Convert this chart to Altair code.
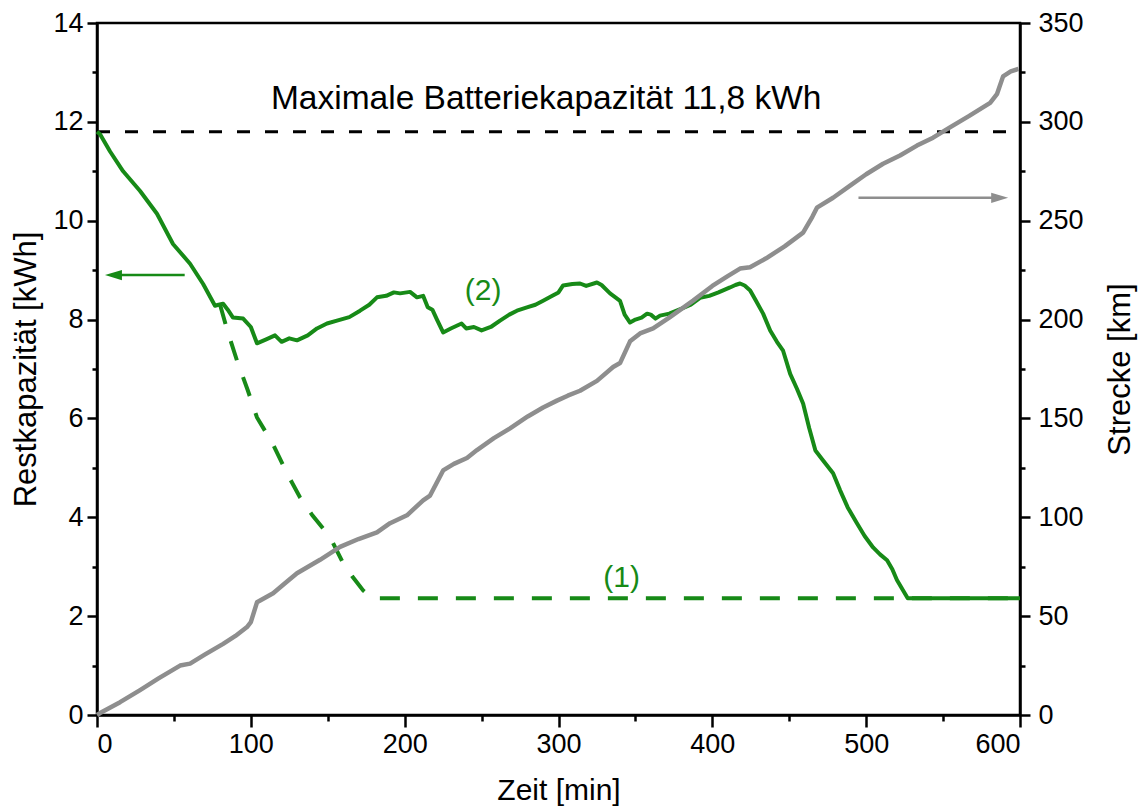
import altair as alt
import pandas as pd

# ---- data ----
# (2) solid green: remaining capacity [kWh] over time [min]
t_solid = [0, 2, 8.5, 17, 28, 39, 49.4, 60.5, 69, 76.7, 79, 82, 85, 88.4, 95, 100, 104, 110, 115.7, 120, 125,
           130, 137, 143, 149.5, 156, 164, 171, 177, 182, 188, 193, 197, 203.5, 208, 212, 215, 218, 221, 225,
           230, 237, 240, 245, 250, 256, 262, 268, 273, 280, 285, 290, 296, 300, 303, 309, 314, 318, 325,
           328, 333.5, 337, 340, 343, 346.5, 350, 354, 357.6, 360, 363, 366, 372, 380, 386, 392, 398, 404,
           411.5, 415, 418, 421, 424.6, 428, 433, 437.6, 442, 446, 450.6, 455, 459, 463, 467, 472, 478.5,
           483, 488, 494, 499, 504.5, 509, 513.6, 517, 520, 527, 600]
v_solid = [11.8, 11.75, 11.4, 11.0, 10.6, 10.14, 9.53, 9.13, 8.72, 8.28, 8.3, 8.32, 8.2, 8.04, 8.02, 7.85,
           7.52, 7.6, 7.68, 7.55, 7.62, 7.58, 7.68, 7.82, 7.92, 7.98, 8.05, 8.18, 8.3, 8.45, 8.48, 8.55,
           8.53, 8.56, 8.45, 8.48, 8.25, 8.2, 8.0, 7.74, 7.82, 7.92, 7.82, 7.85, 7.78, 7.85, 7.98, 8.1,
           8.18, 8.25, 8.3, 8.38, 8.48, 8.55, 8.69, 8.72, 8.73, 8.68, 8.75, 8.7, 8.53, 8.45, 8.38, 8.1,
           7.94, 8.0, 8.04, 8.12, 8.1, 8.02, 8.08, 8.12, 8.22, 8.3, 8.44, 8.48, 8.55, 8.65, 8.7, 8.73,
           8.69, 8.59, 8.4, 8.12, 7.78, 7.55, 7.37, 6.9, 6.6, 6.3, 5.8, 5.35, 5.15, 4.89, 4.55, 4.2, 3.88,
           3.62, 3.39, 3.25, 3.13, 2.95, 2.73, 2.36, 2.36]

# (1) dashed green
t_dashed = [80, 85, 91, 98, 104, 114, 123.5, 132, 140, 151.5, 160, 166, 173, 179, 600]
v_dashed = [8.3, 7.75, 7.17, 6.57, 6.02, 5.5, 4.89, 4.4, 4.04, 3.6, 3.07, 2.8, 2.52, 2.36, 2.36]

# grey: distance [km] over time [min]
t_dist = [0, 2, 15, 28, 40, 54, 60.5, 70, 82, 90, 97.5, 100, 104, 114.5, 122, 130, 145, 158, 170, 182,
          190.5, 201.5, 212, 216.5, 225, 232, 240.5, 247, 258, 268.5, 280, 290, 299, 306, 314, 325,
          335.5, 340, 346.5, 353, 361.5, 372, 387.5, 400, 410, 418, 424.5, 435, 447, 459, 465, 468,
          478.5, 490, 500, 511, 522, 533, 543.5, 555, 567, 580.6, 585, 589, 594, 599]
d_dist = [0, 1, 6.5, 12.6, 18.5, 25, 26, 30.5, 36, 40, 44.5, 47, 57, 61.6, 66.5, 71.7, 78.5, 85, 89,
          92.4, 97, 101, 108.6, 111, 123.7, 127, 130, 134, 140, 145, 151, 155.5, 159, 161.5, 164, 169,
          176, 178, 189, 193, 195.5, 201, 209.6, 217, 222, 225.8, 226.5, 231, 237, 244, 252, 256.6,
          261.6, 268, 273.5, 278.8, 283, 288, 292, 297.5, 303, 309.6, 314, 323, 325.5, 326.8]

max_capacity = 11.8
x_ticks = [0, 50, 100, 150, 200, 250, 300, 350, 400, 450, 500, 550, 600]
y_left_ticks = list(range(0, 15))
y_right_ticks = list(range(0, 351, 25))

# annotations (data units)
title_text = ["Maximale Batteriekapazität 11,8 kWh"]
title_t, title_v = [292], [12.47]
lab_text = ["(2)", "(1)"]
lab_t, lab_v = [251, 341], [8.57, 2.77]
arrow_l_t, arrow_l_v = [12, 57], [8.9, 8.9]
head_l_t, head_l_v = [10.7], [8.9]
arrow_r_t, arrow_r_d = [495, 586], [261.6, 261.6]
head_r_t, head_r_d = [586.8], [261.6]

GREEN = "#178a17"
GRAY = "#8e8e8e"
FONT = "Liberation Sans"

df_solid = pd.DataFrame({"t": t_solid, "v": v_solid})
df_dashed = pd.DataFrame({"t": t_dashed, "v": v_dashed})
df_dist = pd.DataFrame({"t": t_dist, "d": d_dist})
df_max = pd.DataFrame({"t": [0, 600], "v": [max_capacity, max_capacity]})
df_title = pd.DataFrame({"t": title_t, "v": title_v, "txt": title_text})
df_lab = pd.DataFrame({"t": lab_t, "v": lab_v, "txt": lab_text})
df_al = pd.DataFrame({"t": arrow_l_t, "v": arrow_l_v})
df_hl = pd.DataFrame({"t": head_l_t, "v": head_l_v})
df_ar = pd.DataFrame({"t": arrow_r_t, "d": arrow_r_d})
df_hr = pd.DataFrame({"t": head_r_t, "d": head_r_d})

x_enc = alt.X(
    "t:Q",
    scale=alt.Scale(domain=[0, 600], nice=False, zero=False),
    axis=alt.Axis(
        title="Zeit [min]", values=x_ticks,
        labelExpr="datum.value % 100 === 0 ? datum.label : ''",
        tickSize={"condition": {"test": "datum.value % 100 === 0", "value": 12}, "value": 6},
        labelPadding=4, titlePadding=18, titleFontSize=30,
    ),
)
y_left = alt.Y(
    "v:Q",
    scale=alt.Scale(domain=[0, 14], nice=False, zero=False),
    axis=alt.Axis(
        title="Restkapazität [kWh]", values=y_left_ticks,
        labelExpr="datum.value % 2 === 0 ? datum.label : ''",
        tickSize={"condition": {"test": "datum.value % 2 === 0", "value": 10}, "value": 5},
        labelPadding=4, titlePadding=10, orient="left", titleFontSize=31,
    ),
)
y_right = alt.Y(
    "d:Q",
    scale=alt.Scale(domain=[0, 350], nice=False, zero=False),
    axis=alt.Axis(
        title="Strecke [km]", values=y_right_ticks,
        labelExpr="datum.value % 50 === 0 ? datum.label : ''",
        tickSize={"condition": {"test": "datum.value % 50 === 0", "value": 10}, "value": 5},
        labelPadding=8, titlePadding=22, orient="right", titleAngle=270, titleBaseline="top",
        titleFontSize=31,
    ),
)

arrow_left_path = "M-1,0 L1,-0.6 L1,0.6 Z"
arrow_right_path = "M1,0 L-1,-0.6 L-1,0.6 Z"

maxline = alt.Chart(df_max).mark_line(color="black", strokeWidth=3, strokeDash=[13, 15]).encode(x=x_enc, y=y_left)
dashed = alt.Chart(df_dashed).mark_line(color=GREEN, strokeWidth=4, strokeDash=[20, 18]).encode(x=x_enc, y=y_left)
solid = alt.Chart(df_solid).mark_line(color=GREEN, strokeWidth=4, strokeJoin="round").encode(x=x_enc, y=y_left)
title_mark = alt.Chart(df_title).mark_text(font=FONT, fontSize=33.5, color="black", align="center", baseline="middle").encode(
    x=x_enc, y=y_left, text="txt:N")
labels = alt.Chart(df_lab).mark_text(font=FONT, fontSize=30, color=GREEN, align="center", baseline="middle").encode(
    x=x_enc, y=y_left, text="txt:N")
arrow_l = alt.Chart(df_al).mark_line(color=GREEN, strokeWidth=2.5).encode(x=x_enc, y=y_left)
head_l = alt.Chart(df_hl).mark_point(shape=arrow_left_path, filled=True, size=289, color=GREEN, opacity=1).encode(x=x_enc, y=y_left)

left = alt.layer(maxline, dashed, solid, title_mark, labels, arrow_l, head_l)

dist = alt.Chart(df_dist).mark_line(color=GRAY, strokeWidth=4.5, strokeJoin="round").encode(x=x_enc, y=y_right)
arrow_r = alt.Chart(df_ar).mark_line(color=GRAY, strokeWidth=2.5).encode(x=x_enc, y=y_right)
head_r = alt.Chart(df_hr).mark_point(shape=arrow_right_path, filled=True, size=289, color=GRAY, opacity=1).encode(x=x_enc, y=y_right)
right = alt.layer(dist, arrow_r, head_r)

chart = alt.layer(left, right).resolve_scale(y="independent").properties(
    width=923, height=692,
    padding={"left": 89, "top": 15, "right": 119, "bottom": 97},
    autosize=alt.AutoSizeParams(type="none"),
    background="white",
).configure_view(stroke="black", strokeWidth=2.5).configure_axis(
    labelFont=FONT, labelFontSize=27, labelColor="black",
    titleFont=FONT, titleFontWeight="normal", titleColor="black",
    domainColor="black", domainWidth=2.5, tickColor="black", tickWidth=2.5, grid=False,
)

chart.save("out.html", embed_options={"renderer": "svg", "actions": False})
